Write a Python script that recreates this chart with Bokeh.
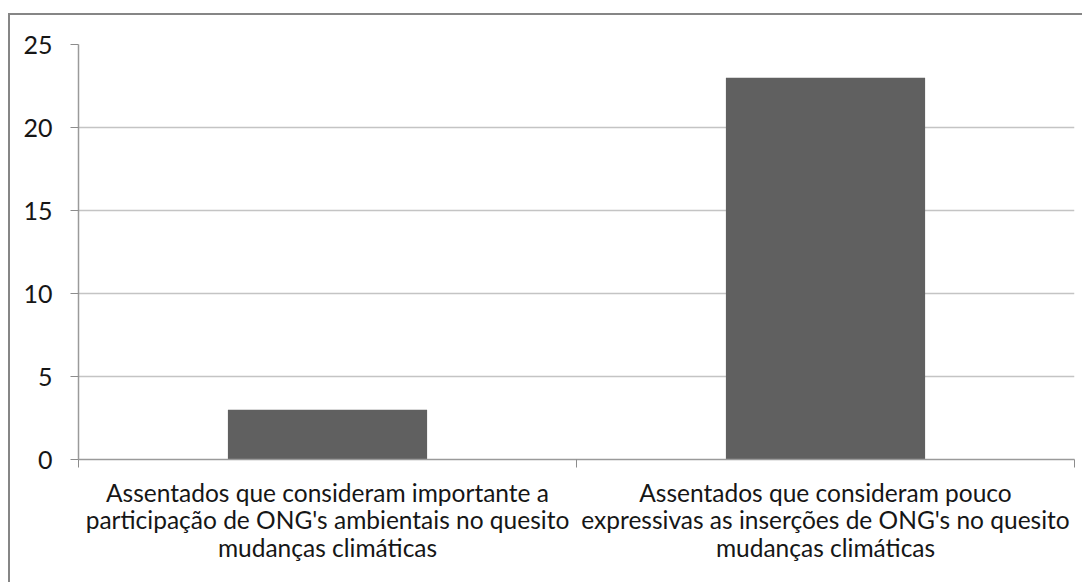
from bokeh.plotting import figure
from bokeh.models import FactorRange, Range1d, LinearAxis, CategoricalAxis, FixedTicker
from bokeh.layouts import column
from bokeh.embed import file_html
from bokeh.resources import INLINE

categories = [
    "Assentados que consideram importante a\nparticipação de ONG's ambientais no quesito\nmudanças climáticas",
    "Assentados que consideram pouco\nexpressivas as inserções de ONG's no quesito\nmudanças climáticas",
]
values = [3, 23]
y_ticks = [0, 5, 10, 15, 20, 25]

FONT = "Lato"
TEXT = "#161616"
AXIS = "#9a9a9a"

p = figure(width=1072, height=567,
           x_range=FactorRange(*categories, range_padding=0),
           y_range=Range1d(0, 25),
           output_backend="svg", toolbar_location=None,
           x_axis_location=None,
           min_border_left=68, min_border_right=8,
           min_border_top=29, min_border_bottom=123)
p.outline_line_color = None
p.background_fill_color = "white"
p.border_fill_color = "white"

p.vbar(x=categories, top=values, width=0.4, fill_color="#606060", line_color=None)

# boundary ticks between categories (synthetic coordinates of the factor range)
bax = LinearAxis(ticker=FixedTicker(ticks=[], minor_ticks=list(range(len(categories) + 1))))
bax.major_label_text_font_size = "0px"
bax.major_tick_line_color = None
bax.minor_tick_out = 8
bax.minor_tick_in = 0
bax.minor_tick_line_color = "#8c8c8c"
bax.minor_tick_line_width = 1
bax.axis_line_color = AXIS
bax.axis_line_width = 1.5
bax.major_label_standoff = 0
p.add_layout(bax, "below")

cax = CategoricalAxis()
cax.axis_line_color = None
cax.major_tick_line_color = None
cax.minor_tick_line_color = None
cax.major_label_text_font = FONT
cax.major_label_text_font_size = "24.5px"
cax.major_label_text_line_height = 0.96
cax.major_label_text_color = TEXT
cax.major_label_standoff = 4
p.add_layout(cax, "below")

p.yaxis.ticker = FixedTicker(ticks=y_ticks)
p.yaxis.minor_tick_line_color = None
p.yaxis.major_tick_out = 8
p.yaxis.major_tick_in = 0
p.yaxis.major_tick_line_color = "#8c8c8c"
p.yaxis.axis_line_color = AXIS
p.yaxis.axis_line_width = 1.5
p.yaxis.major_label_text_font = FONT
p.yaxis.major_label_text_font_size = "25px"
p.yaxis.major_label_text_color = TEXT
p.yaxis.major_label_standoff = 18

p.xgrid.visible = False
p.ygrid.ticker = FixedTicker(ticks=y_ticks)
p.ygrid.grid_line_color = "#c4c4c4"
p.ygrid.grid_line_width = 1.5

lay = column(p, styles={"border-left": "2px solid #868686",
                        "border-top": "2px solid #868686",
                        "margin-top": "13px",
                        "margin-left": "8px"})

open("out.html", "w").write(file_html(lay, INLINE))
